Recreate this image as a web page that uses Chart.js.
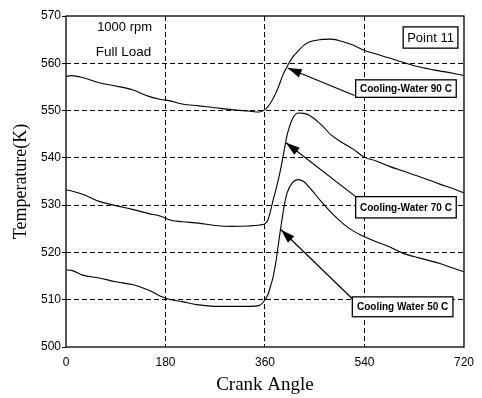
<!DOCTYPE html>
<html>
<head>
<meta charset="utf-8">
<script src="https://cdn.jsdelivr.net/npm/chart.js@4.4.0/dist/chart.umd.min.js"></script>
<style>
  html, body { margin: 0; padding: 0; background: #fff; }
  #wrap { width: 482px; height: 398px; }
</style>
</head>
<body>
<div id="wrap"><canvas id="chart" width="482" height="398"></canvas></div>
<script>
// crank angle (deg) shared by all three curves
const angles = [0, 10, 30, 60, 90, 120, 150, 170, 190, 210, 240, 270, 300, 330, 350,
  360, 365, 370, 375, 380, 385, 390, 395, 400, 410, 420, 430, 440, 460, 480,
  500, 520, 540, 560, 585, 610, 640, 675, 700, 720];

const temp90 = [557.2, 557.4, 557.0, 555.9, 555.2, 554.4, 553.0, 552.4, 552.0, 551.4,
  551.0, 550.6, 550.2, 549.9, 549.7, 550.2, 550.8, 551.6, 552.6, 553.8,
  555.2, 556.8, 558.2, 559.3, 561.3, 562.6, 563.8, 564.5, 565.0, 565.1,
  564.6, 563.8, 562.7, 562.0, 561.1, 560.2, 559.2, 558.4, 557.9, 557.4];

const temp70 = [533.2, 533.0, 532.3, 530.8, 529.9, 529.1, 528.2, 527.7, 526.8, 526.5,
  526.2, 525.7, 525.5, 525.6, 525.8, 526.1, 526.8, 528.8, 531.2, 533.4,
  535.8, 538.6, 541.8, 544.8, 548.3, 549.5, 549.4, 549.0, 547.2, 544.8,
  543.2, 541.8, 540.1, 539.4, 538.2, 537.2, 536.0, 534.5, 533.5, 532.6];

const temp50 = [516.3, 516.2, 515.2, 514.6, 513.8, 513.2, 512.0, 510.8, 510.0, 509.6,
  508.9, 508.6, 508.6, 508.6, 508.8, 510.0, 511.0, 512.8, 515.0, 518.2,
  522.4, 526.4, 530.0, 532.6, 534.8, 535.4, 535.0, 533.8, 531.0, 528.4,
  526.2, 524.5, 523.3, 522.3, 521.2, 519.8, 518.8, 517.7, 516.7, 515.9];

const xTicks = [0, 180, 360, 540, 720];
const yTicks = [500, 510, 520, 530, 540, 550, 560, 570];

// labels drawn on the plot (positions in data units)
const notes = [
  { text: "1000 rpm", x: 106, y: 567.6, font: "13px 'Liberation Sans'" },
  { text: "Full Load", x: 104, y: 562.4, font: "13.5px 'Liberation Sans'" }
];
const boxes = [
  { text: "Point 11", x0: 610, x1: 709, y0: 567.7, y1: 563.2, font: "13px 'Liberation Sans'" },
  { text: "Cooling-Water 90 C", x0: 524, x1: 706, y0: 556.5, y1: 552.8, font: "bold 10px 'Liberation Sans'",
    arrowFrom: [522, 553.2], arrowTo: [401, 559.0] },
  { text: "Cooling-Water 70 C", x0: 524, x1: 706, y0: 531.8, y1: 527.3, font: "bold 10px 'Liberation Sans'",
    arrowFrom: [524, 531.8], arrowTo: [398, 543.2] },
  { text: "Cooling Water 50 C", x0: 518, x1: 700, y0: 510.6, y1: 506.4, font: "bold 10px 'Liberation Sans'",
    arrowFrom: [518, 510.2], arrowTo: [389, 524.8] }
];

function pts(vals) {
  return angles.map((a, i) => ({ x: a, y: vals[i] }));
}

const decor = {
  id: "decor",
  afterDatasetsDraw(chart) {
    const { ctx, chartArea: ca } = chart;
    const xs = chart.scales.x, ys = chart.scales.y;
    ctx.save();
    ctx.strokeStyle = "#000";
    ctx.lineWidth = 1.3;
    ctx.setLineDash([]);
    ctx.strokeRect(ca.left, ca.top, ca.right - ca.left, ca.bottom - ca.top);

    ctx.fillStyle = "#000";
    ctx.textAlign = "center";
    ctx.textBaseline = "middle";
    notes.forEach(n => {
      ctx.font = n.font;
      ctx.fillText(n.text, xs.getPixelForValue(n.x), ys.getPixelForValue(n.y));
    });

    boxes.forEach(b => {
      if (b.arrowFrom) {
        const fx = xs.getPixelForValue(b.arrowFrom[0]), fy = ys.getPixelForValue(b.arrowFrom[1]);
        const tx = xs.getPixelForValue(b.arrowTo[0]), ty = ys.getPixelForValue(b.arrowTo[1]);
        const ang = Math.atan2(ty - fy, tx - fx);
        ctx.lineWidth = 1.2;
        ctx.beginPath();
        ctx.moveTo(fx, fy);
        ctx.lineTo(tx, ty);
        ctx.stroke();
        const L = 14, W = 4.5;
        ctx.beginPath();
        ctx.moveTo(tx, ty);
        ctx.lineTo(tx - L * Math.cos(ang) + W * Math.sin(ang), ty - L * Math.sin(ang) - W * Math.cos(ang));
        ctx.lineTo(tx - L * Math.cos(ang) - W * Math.sin(ang), ty - L * Math.sin(ang) + W * Math.cos(ang));
        ctx.closePath();
        ctx.fill();
      }
      const x0 = xs.getPixelForValue(b.x0), x1 = xs.getPixelForValue(b.x1);
      const y0 = ys.getPixelForValue(b.y0), y1 = ys.getPixelForValue(b.y1);
      ctx.fillStyle = "#fff";
      ctx.fillRect(x0, y0, x1 - x0, y1 - y0);
      ctx.lineWidth = 1.3;
      ctx.strokeRect(x0, y0, x1 - x0, y1 - y0);
      ctx.fillStyle = "#000";
      ctx.font = b.font;
      ctx.fillText(b.text, (x0 + x1) / 2, (y0 + y1) / 2 + 0.5);
    });
    ctx.restore();
  }
};

const lineStyle = {
  borderColor: "#000",
  borderWidth: 1.1,
  pointRadius: 0,
  fill: false,
  cubicInterpolationMode: "monotone"
};

new Chart(document.getElementById("chart"), {
  type: "line",
  data: {
    datasets: [
      { label: "Cooling-Water 90 C", data: pts(temp90), ...lineStyle },
      { label: "Cooling-Water 70 C", data: pts(temp70), ...lineStyle },
      { label: "Cooling Water 50 C", data: pts(temp50), ...lineStyle }
    ]
  },
  options: {
    responsive: false,
    animation: false,
    layout: { padding: { top: 16, right: 15, left: 0, bottom: 0 } },
    plugins: { legend: { display: false }, tooltip: { enabled: false } },
    scales: {
      x: {
        type: "linear",
        min: 0,
        max: 720,
        afterBuildTicks: s => { s.ticks = xTicks.map(v => ({ value: v })); },
        afterFit: s => { s.height = 51; },
        grid: {
          color: c => (c.tick && (c.tick.value === 0 || c.tick.value === 720)) ? "rgba(0,0,0,0)" : "#000",
          lineWidth: 1,
          drawTicks: false
        },
        border: { display: false, dash: [5, 3] },
        ticks: { color: "#000", font: { family: "'Liberation Sans'", size: 12 }, padding: 8, maxRotation: 0 },
        title: {
          display: true,
          text: "Crank Angle",
          color: "#000",
          font: { family: "'Liberation Serif'", size: 19 },
          padding: { top: 0, bottom: 2 }
        }
      },
      y: {
        min: 500,
        max: 570,
        afterBuildTicks: s => { s.ticks = yTicks.map(v => ({ value: v })); },
        afterFit: s => { s.width = 66; },
        grid: {
          color: c => (c.tick && (c.tick.value === 500 || c.tick.value === 570)) ? "rgba(0,0,0,0)" : "#000",
          tickColor: "#000",
          lineWidth: 1,
          tickLength: 4,
          tickBorderDash: []
        },
        border: { display: false, dash: [5, 3] },
        ticks: { color: "#000", font: { family: "'Liberation Sans'", size: 12 }, padding: 1 },
        title: {
          display: true,
          text: "Temperature(K)",
          color: "#000",
          font: { family: "'Liberation Serif'", size: 18 },
          padding: { top: 10, bottom: 0 }
        }
      }
    }
  },
  plugins: [decor]
});
</script>
</body>
</html>
